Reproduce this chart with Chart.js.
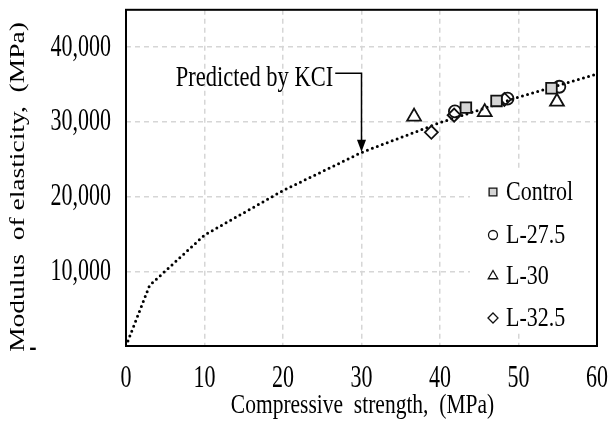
<!DOCTYPE html>
<html>
<head>
<meta charset="utf-8">
<script src="https://cdn.jsdelivr.net/npm/chart.js@4"></script>
<style>
  html, body { margin: 0; padding: 0; background: #fff; }
  #wrap { width: 608px; height: 421px; }
</style>
</head>
<body>
<div id="wrap"><canvas id="chart"></canvas></div>
<script>
// KCI predicted curve
const kciStrength = [0, 3, 10, 20, 30, 40, 50, 60];
const kciModulus = [0, 8100, 14850, 20800, 25900, 29900, 33300, 36400];

// measured specimens
const controlStrength = [43.3, 47.2, 54.2];
const controlModulus = [31900, 32800, 34500];
const l275Strength = [41.9, 48.6, 55.2];
const l275Modulus = [31400, 33100, 34700];
const l30Strength = [36.7, 45.7, 54.9];
const l30Modulus = [30700, 31300, 32700];
const l325Strength = [38.9, 41.8, 48.2];
const l325Modulus = [28600, 30900, 33000];

const xTicks = [0, 10, 20, 30, 40, 50, 60];
const yTicks = [0, 10000, 20000, 30000, 40000];

const seriesNames = ['Control', 'L-27.5', 'L-30', 'L-32.5'];

const SERIF = "'Liberation Serif', 'Times New Roman', serif";

function toPoints(xs, ys) {
    return xs.map((x, i) => ({ x: x, y: ys[i] }));
}

const yLabel = v => v === 0 ? '-' : v.toLocaleString('en-US');

const markerStyles = [
    { pointStyle: 'rect', radius: 7.5, legendRadius: 5.5, fill: '#d4d4d4' },
    { pointStyle: 'circle', radius: 6, legendRadius: 4.5, fill: 'rgba(0,0,0,0)' },
    { pointStyle: 'triangle', radius: 8, legendRadius: 5.5, fill: 'rgba(0,0,0,0)' },
    { pointStyle: 'rectRot', radius: 6.5, legendRadius: 5, fill: 'rgba(0,0,0,0)' }
];

const pointSets = [
    toPoints(controlStrength, controlModulus),
    toPoints(l275Strength, l275Modulus),
    toPoints(l30Strength, l30Modulus),
    toPoints(l325Strength, l325Modulus)
];

const datasets = pointSets.map((pts, i) => ({
    label: seriesNames[i],
    type: 'scatter',
    data: pts,
    pointStyle: markerStyles[i].pointStyle,
    pointRadius: markerStyles[i].radius,
    pointHoverRadius: markerStyles[i].radius,
    pointBackgroundColor: markerStyles[i].fill,
    pointBorderColor: '#111',
    pointBorderWidth: 1.8,
    showLine: false,
    order: 1
}));

datasets.push({
    label: 'Predicted by KCI',
    type: 'line',
    data: toPoints(kciStrength, kciModulus),
    borderColor: '#000',
    borderWidth: 3,
    borderDash: [0, 5.3],
    borderCapStyle: 'round',
    pointRadius: 0,
    tension: 0,
    fill: false,
    order: 10
});

// text in the source picture is taller than it is wide, so stretch it
function stretchText(ctx, text, x, y, o) {
    ctx.save();
    ctx.translate(x, y);
    if (o.rotate) ctx.rotate(o.rotate);
    ctx.scale(o.sx || 1, o.sy || 1);
    ctx.font = o.size + 'px ' + SERIF;
    ctx.fillStyle = '#000';
    ctx.textAlign = o.align || 'center';
    ctx.textBaseline = 'middle';
    ctx.fillText(text, 0, 0);
    ctx.restore();
}

const extrasPlugin = {
    id: 'extras',
    afterDraw(chart) {
        const { ctx, chartArea: a, scales: { x, y } } = chart;
        ctx.save();

        // legend box in lower right
        ctx.fillStyle = '#fff';
        ctx.fillRect(a.right - 127, a.bottom - 176, 127, 163);
        const rowY = [a.bottom - 154, a.bottom - 111, a.bottom - 70, a.bottom - 28];
        seriesNames.forEach((name, i) => {
            ctx.fillStyle = markerStyles[i].fill;
            ctx.strokeStyle = '#111';
            ctx.lineWidth = 1.3;
            Chart.helpers.drawPoint(ctx, {
                pointStyle: markerStyles[i].pointStyle,
                radius: markerStyles[i].legendRadius,
                rotation: 0,
                borderWidth: 1.3
            }, a.right - 104, rowY[i]);
            stretchText(ctx, name, a.right - 91, rowY[i] + 1, { size: 22, sy: 1.25, align: 'left' });
        });

        // call-out: text, leader and arrow
        const tipX = x.getPixelForValue(30);
        const tipY = y.getPixelForValue(26000);
        const elbowY = y.getPixelForValue(36500);
        const textEnd = x.getPixelForValue(26.4);
        ctx.strokeStyle = '#000';
        ctx.lineWidth = 1.5;
        ctx.beginPath();
        ctx.moveTo(textEnd + 2, elbowY);
        ctx.lineTo(tipX, elbowY);
        ctx.lineTo(tipX, tipY - 10);
        ctx.stroke();
        ctx.fillStyle = '#000';
        ctx.beginPath();
        ctx.moveTo(tipX, tipY);
        ctx.lineTo(tipX - 4.5, tipY - 12);
        ctx.lineTo(tipX + 4.5, tipY - 12);
        ctx.closePath();
        ctx.fill();
        stretchText(ctx, 'Predicted by KCI', textEnd, elbowY + 5, { size: 22.5, sy: 1.3, align: 'right' });

        // plot frame
        ctx.strokeStyle = '#000';
        ctx.lineWidth = 2;
        ctx.strokeRect(a.left, a.top, a.right - a.left, a.bottom - a.top);

        // tick labels, taken from the scales
        x.ticks.forEach(t => {
            stretchText(ctx, String(t.value), x.getPixelForValue(t.value), a.bottom + 33, { size: 22, sy: 1.45 });
        });
        y.ticks.forEach(t => {
            const py = y.getPixelForValue(t.value);
            if (t.value === 0) {
                stretchText(ctx, yLabel(0), 33, py + 2, { size: 22, sy: 1.45 });
            } else {
                stretchText(ctx, yLabel(t.value), a.left - 15, py, { size: 22, sy: 1.45, align: 'right' });
            }
        });

        // axis titles
        stretchText(ctx, 'Compressive  strength,  (MPa)', (a.left + a.right) / 2 + 1, 406, { size: 21.5, sy: 1.28 });
        stretchText(ctx, 'Modulus  of elasticity,  (MPa)', 18, 187, { size: 22, sx: 1.25, rotate: -Math.PI / 2 });

        ctx.restore();
    }
};

const gridColor = (ctx, ends) => ends.includes(ctx.tick.value) ? 'rgba(0,0,0,0)' : '#d6d6d6';

new Chart(document.getElementById('chart'), {
    data: { datasets: datasets },
    options: {
        responsive: true,
        maintainAspectRatio: false,
        animation: false,
        layout: { padding: { top: 9, right: 11, left: 0, bottom: 0 } },
        plugins: {
            legend: { display: false },
            tooltip: { enabled: false }
        },
        scales: {
            x: {
                type: 'linear',
                min: xTicks[0],
                max: xTicks[xTicks.length - 1],
                afterBuildTicks: s => { s.ticks = xTicks.map(v => ({ value: v })); },
                afterFit: s => {
                    s.height = 75;
                    s.paddingLeft = 0; s.paddingRight = 0; s.paddingTop = 0; s.paddingBottom = 0;
                },
                ticks: { display: false },
                grid: {
                    color: c => gridColor(c, [0, 60]),
                    lineWidth: 1.5,
                    drawTicks: false
                },
                border: { display: false, dash: [5, 4] }
            },
            y: {
                type: 'linear',
                min: 0,
                max: 45000,
                afterBuildTicks: s => { s.ticks = yTicks.map(v => ({ value: v })); },
                afterFit: s => {
                    s.width = 126;
                    s.paddingLeft = 0; s.paddingRight = 0; s.paddingTop = 0; s.paddingBottom = 0;
                },
                ticks: { display: false, callback: yLabel },
                grid: {
                    color: c => gridColor(c, [0]),
                    lineWidth: 1.5,
                    drawTicks: false
                },
                border: { display: false, dash: [5, 4] }
            }
        }
    },
    plugins: [extrasPlugin]
});
</script>
</body>
</html>
